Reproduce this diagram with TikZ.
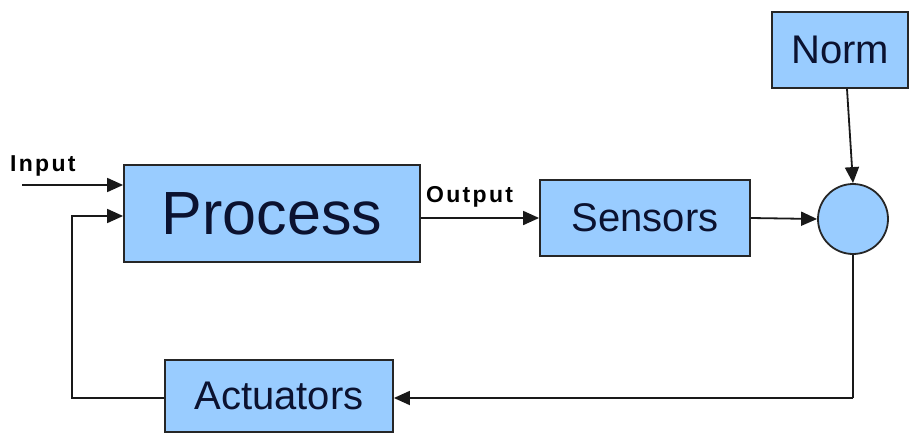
\documentclass[tikz,border=0pt]{standalone}
\usepackage{fontspec}
\setmainfont{Liberation Sans}
\newfontfamily\lblfont[LetterSpace=10]{Liberation Sans}
\usetikzlibrary{arrows.meta}
\definecolor{boxfill}{HTML}{99CCFF}
\definecolor{boxtext}{HTML}{0B1230}
\begin{document}
\begin{tikzpicture}[x=1pt,y=-1pt,
  block/.style={draw=black!85, line width=1.8pt, fill=boxfill, text=boxtext, inner sep=0pt},
  conn/.style={draw=black!90, line width=1.8pt, -{Triangle[length=16pt,width=14pt]}},
  plain/.style={draw=black!90, line width=1.8pt},
  lbl/.style={font=\lblfont\fontsize{23}{23}\selectfont\bfseries, inner sep=0pt}]
\useasboundingbox (0,0) rectangle (913,436);
% blocks
\node[block, minimum width=296pt, minimum height=97pt, font=\fontsize{61}{61}\selectfont] (proc) at (272,213.5) {Process};
\node[block, minimum width=210pt, minimum height=76pt, font=\fontsize{40}{40}\selectfont] (sens) at (645,218) {Sensors};
\node[block, minimum width=136pt, minimum height=76pt, font=\fontsize{40}{40}\selectfont] (norm) at (840,50) {Norm};
\node[block, minimum width=228pt, minimum height=72pt, font=\fontsize{40}{40}\selectfont] (act) at (279,396) {Actuators};
\node[block, circle, minimum size=70pt] (sum) at (853,219) {};
% input, output and summing junction
\coordinate (inl) at (22,185);
\node[lbl, anchor=south west] (inlab) at (10,176) {Input};
\draw[conn] (inl) -- (proc.west |- inl);
\draw[conn] (proc.east |- sens.west) -- (sens.west);
\node[lbl, anchor=south west] (outlab) at (426,207) {Output};
\draw[conn] (sens.east) -- (sum.west);
\draw[conn] ([xshift=7pt]norm.south) -- (sum.north);
% feedback loop
\coordinate (br) at (853,398);
\draw[plain] (sum.south) -- (br);
\draw[conn] (br) -- (act.east |- br);
\coordinate (bl) at (72,398);
\coordinate (tl) at (72,216);
\draw[conn] (act.west |- bl) -- (bl) -- (tl) -- (proc.west |- tl);
\end{tikzpicture}
\end{document}
